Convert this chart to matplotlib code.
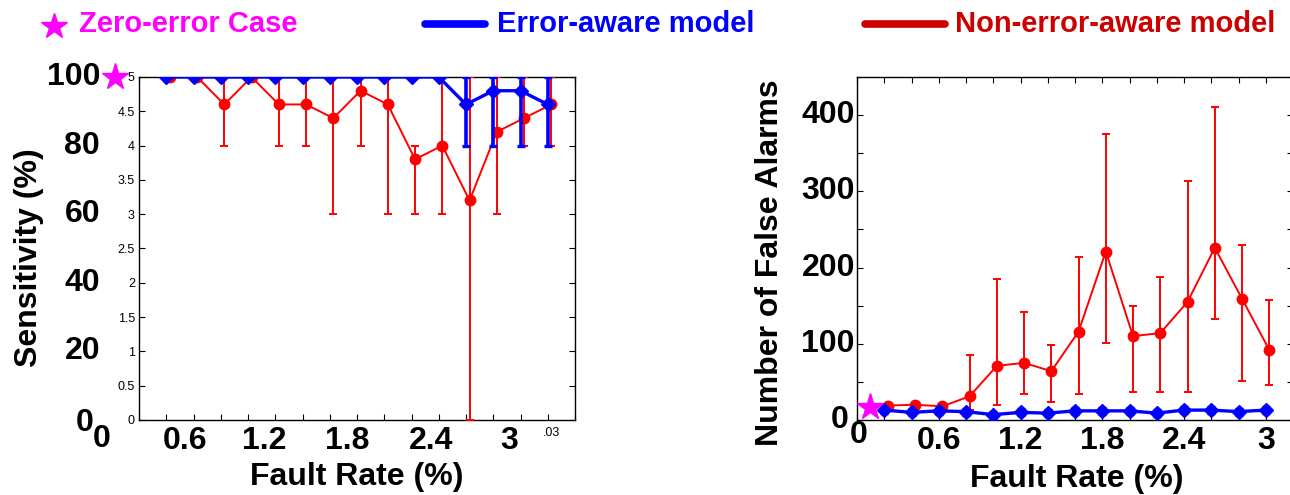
import matplotlib
matplotlib.use('Agg')
import matplotlib.pyplot as plt
from matplotlib.lines import Line2D

plt.rcParams['font.family'] = ['Liberation Sans', 'DejaVu Sans']

# fault rate (fraction), 0.2 % steps
fault_rate = [0.002, 0.004, 0.006, 0.008, 0.010, 0.012, 0.014, 0.016,
              0.018, 0.020, 0.022, 0.024, 0.026, 0.028, 0.030]

# sensitivity, number of detected faults out of 5
sens_aware = [5, 5, 5, 5, 5, 5, 5, 5, 5, 5, 5, 4.6, 4.8, 4.8, 4.6]
sens_aware_lo = [5, 5, 5, 5, 5, 5, 5, 5, 5, 5, 5, 4, 4, 4, 4]
sens_aware_hi = [5, 5, 5, 5, 5, 5, 5, 5, 5, 5, 5, 5, 5, 5, 5]
sens_non = [5, 5, 4.6, 5, 4.6, 4.6, 4.4, 4.8, 4.6, 3.8, 4.0, 3.2, 4.2, 4.4, 4.6]
sens_non_lo = [5, 5, 4, 5, 4, 4, 3, 4, 3, 3, 3, 0, 3, 4, 4]
sens_non_hi = [5, 5, 5, 5, 5, 5, 5, 5, 5, 4, 5, 5, 5, 5, 5]

# number of false alarms
fa_aware = [13, 10, 12, 11, 7, 10, 9, 12, 12, 12, 9, 13, 13, 11, 13]
fa_aware_lo = [9, 6, 8, 7, 3, 6, 5, 8, 8, 8, 5, 9, 9, 7, 9]
fa_aware_hi = [17, 14, 16, 15, 11, 14, 13, 16, 16, 16, 13, 17, 17, 15, 17]
fa_non = [19, 20, 18, 31, 71, 75, 64, 116, 221, 110, 114, 155, 226, 159, 92]
fa_non_lo = [19, 20, 18, 13, 20, 34, 24, 34, 101, 37, 37, 37, 133, 51, 46]
fa_non_hi = [19, 20, 18, 85, 185, 142, 99, 214, 375, 150, 188, 313, 411, 230, 157]

# zero-error reference
zero_sens = 5
zero_fa = 17

sens_big_labels = ['100', '80', '60', '40', '20']
sens_big_pos = [5, 4, 3, 2, 1]
fa_big_labels = ['400', '300', '200', '100']
fa_big_pos = [400, 300, 200, 100]
rate_labels = ['0.6', '1.2', '1.8', '2.4', '3']
rate_pos_left = [0.0034, 0.0092, 0.0153, 0.0214, 0.0272]   # shifted in original
rate_pos_right = [0.006, 0.012, 0.018, 0.024, 0.030]

RED = '#FF0000'
BLUE = '#0000FF'
MAG = '#FF00FF'
BIG = dict(fontsize=23, fontweight='bold', color='black')

fig = plt.figure(figsize=(12.9, 4.95), dpi=100)
ax1 = fig.add_axes([139/1290, 75/495, 436/1290, 343/495])
ax2 = fig.add_axes([857/1290, 75/495, 436/1290, 343/495])

red_x = [x + 0.00026 for x in fault_rate]


def errs(v, lo, hi):
    return [[a - b for a, b in zip(v, lo)], [b - a for a, b in zip(v, hi)]]


# ---- left: sensitivity
ax1.errorbar(red_x, sens_non, yerr=errs(sens_non, sens_non_lo, sens_non_hi),
             fmt='-o', color=RED, lw=1.4, ms=7.5, elinewidth=1.4, capsize=3,
             capthick=1.4, zorder=3)
ax1.errorbar(fault_rate, sens_aware, yerr=errs(sens_aware, sens_aware_lo, sens_aware_hi),
             fmt='-D', color=BLUE, lw=2.4, ms=7, elinewidth=2.6, capsize=3,
             capthick=2.4, zorder=4)
ax1.plot([-0.00176], [zero_sens], '*', color=MAG, ms=20, clip_on=False, zorder=5)

ax1.set_xlim(0, 0.032)
ax1.set_ylim(0, 5)
ax1.set_xticks([0.002 * i for i in range(17)])
ax1.set_xticklabels([])
ax1.set_yticks([0.5 * i for i in range(11)])
ax1.set_yticklabels(['0', '0.5', '1', '1.5', '2', '2.5', '3', '3.5', '4', '4.5', '5'])
ax1.tick_params(direction='in', length=4, width=0.8, top=True, right=True,
                labelsize=9, pad=3)
ax1.text(0.0303, -0.19, '.03', fontsize=9, ha='center', va='center')

for lab, p in zip(sens_big_labels, sens_big_pos):
    ax1.text(-0.00286, p, lab, ha='right', va='center', clip_on=False, **BIG)
ax1.text(-0.0033, -0.04, '0', ha='right', va='center', **BIG)
ax1.text(-0.00272, -0.28, '0', ha='center', va='center', **BIG)
for lab, p in zip(rate_labels, rate_pos_left):
    ax1.text(p, -0.31, lab, ha='center', va='center', **BIG)
ax1.text(0.5, -0.166, 'Fault Rate (%)', transform=ax1.transAxes,
         ha='center', va='center', **BIG)
ax1.text(-0.252, 0.472, 'Sensitivity (%)', transform=ax1.transAxes, rotation=90,
         ha='center', va='center', **BIG)

# ---- right: false alarms
ax2.errorbar(red_x, fa_non, yerr=errs(fa_non, fa_non_lo, fa_non_hi),
             fmt='-o', color=RED, lw=1.4, ms=7.5, elinewidth=1.4, capsize=3,
             capthick=1.4, zorder=3)
ax2.errorbar(fault_rate, fa_aware, yerr=errs(fa_aware, fa_aware_lo, fa_aware_hi),
             fmt='-D', color=BLUE, lw=2.4, ms=7, elinewidth=2.6, capsize=3,
             capthick=2.4, zorder=4)
ax2.plot([0.00095], [zero_fa], '*', color=MAG, ms=20, clip_on=False, zorder=5)

ax2.set_xlim(0, 0.032)
ax2.set_ylim(0, 450)
ax2.set_xticks([0.002 * i for i in range(17)])
ax2.set_xticklabels([])
ax2.set_yticks([50 * i for i in range(10)])
ax2.set_yticklabels([])
ax2.tick_params(direction='in', length=4, width=0.8, top=True, right=True)

for lab, p in zip(fa_big_labels, fa_big_pos):
    ax2.text(-0.00015, p, lab, ha='right', va='center', **BIG)
ax2.text(-0.0006, 0, '0', ha='right', va='center', **BIG)
ax2.text(0.0001, -20, '0', ha='center', va='center', **BIG)
for lab, p in zip(rate_labels, rate_pos_right):
    ax2.text(p, -28, lab, ha='center', va='center', **BIG)
ax2.text(0.505, -0.172, 'Fault Rate (%)', transform=ax2.transAxes,
         ha='center', va='center', **BIG)
ax2.text(-0.1995, 0.46, 'Number of False Alarms', transform=ax2.transAxes,
         rotation=90, ha='center', va='center', **BIG)

for ax in (ax1, ax2):
    for s in ax.spines.values():
        s.set_linewidth(1.0)

# ---- legend row on top
fig.add_artist(Line2D([54/1290], [1 - 26/495], marker='*', color=MAG, ms=19,
                      transform=fig.transFigure))
fig.text(79/1290, 1 - 24/495, 'Zero-error Case', color=MAG, fontsize=21,
         fontweight='bold', va='center', ha='left')
fig.add_artist(Line2D([425/1290, 485/1290], [1 - 24/495, 1 - 24/495], color=BLUE,
                      lw=5.5, solid_capstyle='round', transform=fig.transFigure))
fig.text(497/1290, 1 - 24/495, 'Error-aware model', color=BLUE, fontsize=21,
         fontweight='bold', va='center', ha='left')
fig.add_artist(Line2D([865/1290, 945/1290], [1 - 24/495, 1 - 24/495], color='#CC0000',
                      lw=5.5, solid_capstyle='round', transform=fig.transFigure))
fig.text(955/1290, 1 - 24/495, 'Non-error-aware model', color='#CC0000', fontsize=21,
         fontweight='bold', va='center', ha='left')

fig.savefig('out.png', dpi=100)
